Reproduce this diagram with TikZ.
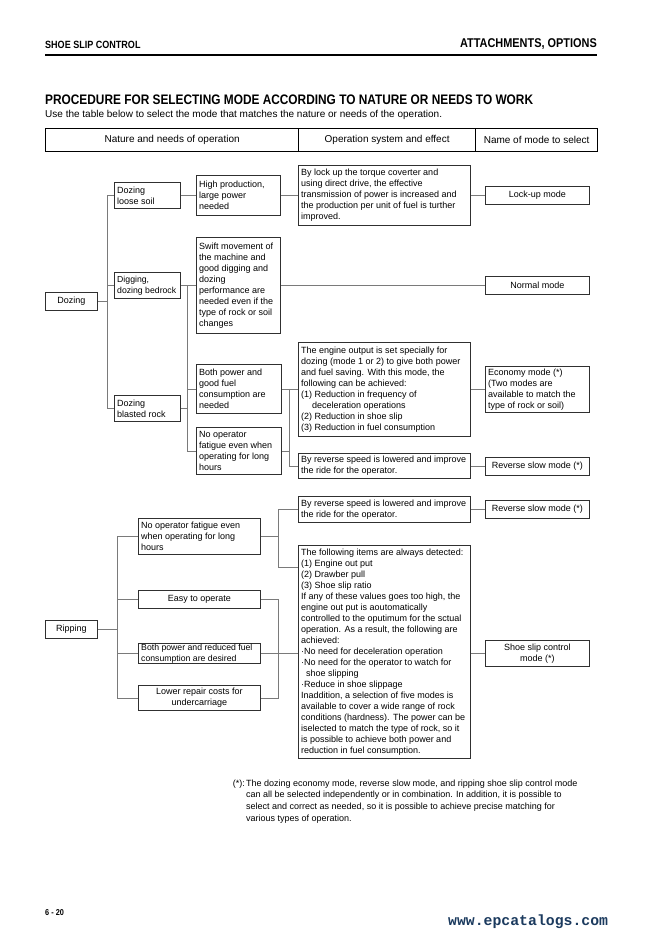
\documentclass[tikz,border=0pt]{standalone}
\usepackage{fontspec}
\setmainfont{Liberation Sans}
\newfontfamily\condf[FakeStretch=0.86]{Liberation Sans}
\newfontfamily\urlf{Liberation Mono}
\definecolor{boxc}{HTML}{303030}
\definecolor{linec}{HTML}{7A7A7A}
\definecolor{urlc}{HTML}{1B3A5E}
\tikzset{
  boxs/.style={draw=boxc, line width=0.8pt, inner sep=0pt},
  txt/.style={inner sep=0pt, font=\fontsize{9}{11}\selectfont, text=black},
  conn/.style={draw=linec, line width=0.8pt},
  hdr/.style={draw=black, line width=1.2pt, inner sep=0pt, anchor=north west,
    minimum height=23pt, font=\fontsize{10}{12}\selectfont},
}
\newcommand\mybox[7]{%
  \pgfmathsetmacro\bw{#4-#2}%
  \pgfmathsetmacro\bh{#5-#3}%
  \node[boxs,minimum width=\bw pt,minimum height=\bh pt,anchor=north west] (#1) at (#2,#3) {};%
  \ifx l#6\node[txt,align=left,anchor=west] (#1t) at ([xshift=3pt]#1.west) {#7};%
  \else\node[txt,align=center] (#1t) at (#1.center) {#7};\fi}
\newcommand\smf{\fontsize{8.7}{11}\selectfont}
\begin{document}
\begin{tikzpicture}[x=1pt,y=-1pt]
\useasboundingbox[fill=white] (0,0) rectangle (661,937);
% page header
\node[anchor=base west, inner sep=0pt, font=\condf\bfseries\fontsize{10.5}{12}\selectfont] (hl) at (45,48) {SHOE SLIP CONTROL};
\node[anchor=base east, inner sep=0pt, font=\condf\bfseries\fontsize{12.7}{14}\selectfont] (hr) at (597,47) {ATTACHMENTS, OPTIONS};
\coordinate (rl) at (45,55);
\coordinate (rr) at (597,55);
\draw[line width=2.4pt] (rl) -- (rr);
% title
\node[anchor=base west, inner sep=0pt, font=\condf\bfseries\fontsize{13.8}{16}\selectfont] (title) at (45,104) {PROCEDURE FOR SELECTING MODE ACCORDING TO NATURE OR NEEDS TO WORK};
\node[anchor=base west, inner sep=0pt, font=\fontsize{10}{12}\selectfont] (sub) at (45,117) {Use the table below to select the mode that matches the nature or needs of the operation.};
% table header
\node[hdr, minimum width=253pt] (h1) at (45,128) {Nature and needs of operation};
\node[hdr, minimum width=177pt] (h2) at (298,128) {Operation system and effect};
\node[hdr, minimum width=122pt] (h3) at (475,128) {Name of mode to select};

% ---------- Dozing ----------
\mybox{doz}{45}{292}{97}{310}{c}{Dozing}
\mybox{dls}{114}{182}{180}{208}{l}{Dozing\\loose soil}
\mybox{ddb}{114}{272}{180}{298}{l}{\smf Digging,\\\smf dozing bedrock}
\mybox{dbr}{114}{395}{180}{421}{l}{Dozing\\blasted rock}
\mybox{hp}{196}{175}{280}{215}{l}{High production,\\large power\\needed}
\mybox{sw}{196}{237}{280}{333}{l}{Swift movement of\\the machine and\\good digging and\\dozing\\performance are\\needed even if the\\type of rock or soil\\changes}
\mybox{bp}{196}{364}{281}{413}{l}{Both power and\\good fuel\\consumption are\\needed}
\mybox{no}{196}{427}{281}{474}{l}{No operator\\fatigue even when\\operating for long\\hours}
\mybox{le}{298}{165}{470}{225}{l}{By lock up the torque coverter and\\using direct drive, the effective\\transmission of power is increased and\\the production per unit of fuel is turther\\improved.}
\mybox{ee}{298}{342}{470}{436}{l}{The engine output is set specially for\\dozing (mode 1 or 2) to give both power\\and fuel saving. With this mode, the\\following can be achieved:\\(1) Reduction in frequency of\\\hspace*{11pt}deceleration operations\\(2) Reduction in shoe slip\\(3) Reduction in fuel consumption}
\mybox{re1}{298}{453}{470}{478}{l}{By reverse speed is lowered and improve\\the ride for the operator.}
\mybox{lum}{485}{186}{589}{204}{c}{Lock-up mode}
\mybox{nm}{485}{276}{589}{294}{c}{Normal mode}
\mybox{em}{485}{366}{589}{412}{l}{Economy mode (*)\\(Two modes are\\available to match the\\type of rock or soil)}
\mybox{rs1}{485}{457}{589}{475}{c}{Reverse slow mode (*)}

\coordinate (jD) at (107,0);
\coordinate (jA) at (187,0);
\coordinate (jB) at (289,0);
\draw[conn] (doz.east) -- (jD |- doz.east);
\draw[conn] (jD |- dls.west) -- (jD |- dbr.west);
\draw[conn] (jD |- dls.west) -- (dls.west);
\draw[conn] (jD |- ddb.west) -- (ddb.west);
\draw[conn] (jD |- dbr.west) -- (dbr.west);
\draw[conn] (dls.east) -- (dls.east -| hp.west);
\draw[conn] (hp.east) -- (hp.east -| le.west);
\draw[conn] (le.east) -- (le.east -| lum.west);
\draw[conn] (ddb.east) -- (ddb.east -| sw.west);
\draw[conn] (jA |- ddb.east) -- (jA |- no.west);
\draw[conn] (dbr.east) -- (jA |- dbr.east);
\draw[conn] (jA |- bp.west) -- (bp.west);
\draw[conn] (jA |- no.west) -- (no.west);
\draw[conn] (sw.east) -- (sw.east -| nm.west);
\draw[conn] (bp.east) -- (bp.east -| ee.west);
\draw[conn] (ee.east) -- (ee.east -| em.west);
\draw[conn] (jB |- bp.east) -- (jB |- re1.west) -- (re1.west);
\draw[conn] (no.east) -- (jB |- no.east);
\draw[conn] (re1.east) -- (re1.east -| rs1.west);

% ---------- Ripping ----------
\mybox{rip}{45}{620}{97}{638}{c}{Ripping}
\mybox{nof}{138}{518}{260}{554}{l}{No operator fatigue even\\when operating for long\\hours}
\mybox{eto}{138}{590}{260}{608}{c}{Easy to operate}
\mybox{bpr}{138}{643}{260}{663}{l}{\smf Both power and reduced fuel\\\smf consumption are desired}
\mybox{lrc}{138}{685}{260}{710}{c}{Lower repair costs for\\undercarriage}
\mybox{re2}{298}{496}{470}{522}{l}{By reverse speed is lowered and improve\\the ride for the operator.}
\mybox{rs2}{485}{500}{589}{518}{c}{Reverse slow mode (*)}
\mybox{ss}{298}{545}{470}{758}{l}{The following items are always detected:\\(1) Engine out put\\(2) Drawber pull\\(3) Shoe slip ratio\\If any of these values goes too high, the\\engine out put is aoutomatically\\controlled to the oputimum for the sctual\\operation. As a result, the following are\\achieved:\\·No need for deceleration operation\\·No need for the operator to watch for\\\hspace*{5pt}shoe slipping\\·Reduce in shoe slippage\\Inaddition, a selection of five modes is\\available to cover a wide range of rock\\conditions (hardness). The power can be\\iselected to match the type of rock, so it\\is possible to achieve both power and\\reduction in fuel consumption.}
\mybox{ssm}{485}{640}{589}{666}{c}{Shoe slip control\\mode (*)}

\coordinate (jT) at (117,0);
\coordinate (jR) at (278,0);
\coordinate (ssin) at (298,567);
\draw[conn] (rip.east) -- (jT |- rip.east);
\draw[conn] (jT |- nof.west) -- (jT |- lrc.west);
\draw[conn] (jT |- nof.west) -- (nof.west);
\draw[conn] (jT |- eto.west) -- (eto.west);
\draw[conn] (jT |- bpr.west) -- (bpr.west);
\draw[conn] (jT |- lrc.west) -- (lrc.west);
\draw[conn] (nof.east) -- (jR |- nof.east);
\draw[conn] (re2.west) -- (jR |- re2.west) -- (jR |- ssin) -- (ssin);
\draw[conn] (eto.east) -- (jR |- eto.east) -- (jR |- lrc.east) -- (lrc.east);
\draw[conn] (bpr.east) -- (bpr.east -| ss.west);
\draw[conn] (re2.east) -- (re2.east -| rs2.west);
\draw[conn] (ss.east |- ssm.west) -- (ssm.west);

% footnote
\node[anchor=base west, align=left, inner sep=0pt, font=\fontsize{9}{11.7}\selectfont] (fn) at (246,821.1) {The dozing economy mode, reverse slow mode, and ripping shoe slip control mode\\can all be selected independently or in combination. In addition, it is possible to\\select and correct as needed, so it is possible to achieve precise matching for\\various types of operation.};
\node[anchor=base east, inner sep=0pt, font=\fontsize{9}{11.7}\selectfont] (fnl) at (245,786) {(*):};

% footer
\node[anchor=base west, inner sep=0pt, font=\condf\bfseries\fontsize{8.5}{10}\selectfont] (pg) at (45,915) {6 - 20};
\node[anchor=base west, inner sep=0pt, text=urlc, font=\urlf\bfseries\fontsize{14.8}{16}\selectfont] (url) at (448,925) {www.epcatalogs.com};
\end{tikzpicture}
\end{document}
